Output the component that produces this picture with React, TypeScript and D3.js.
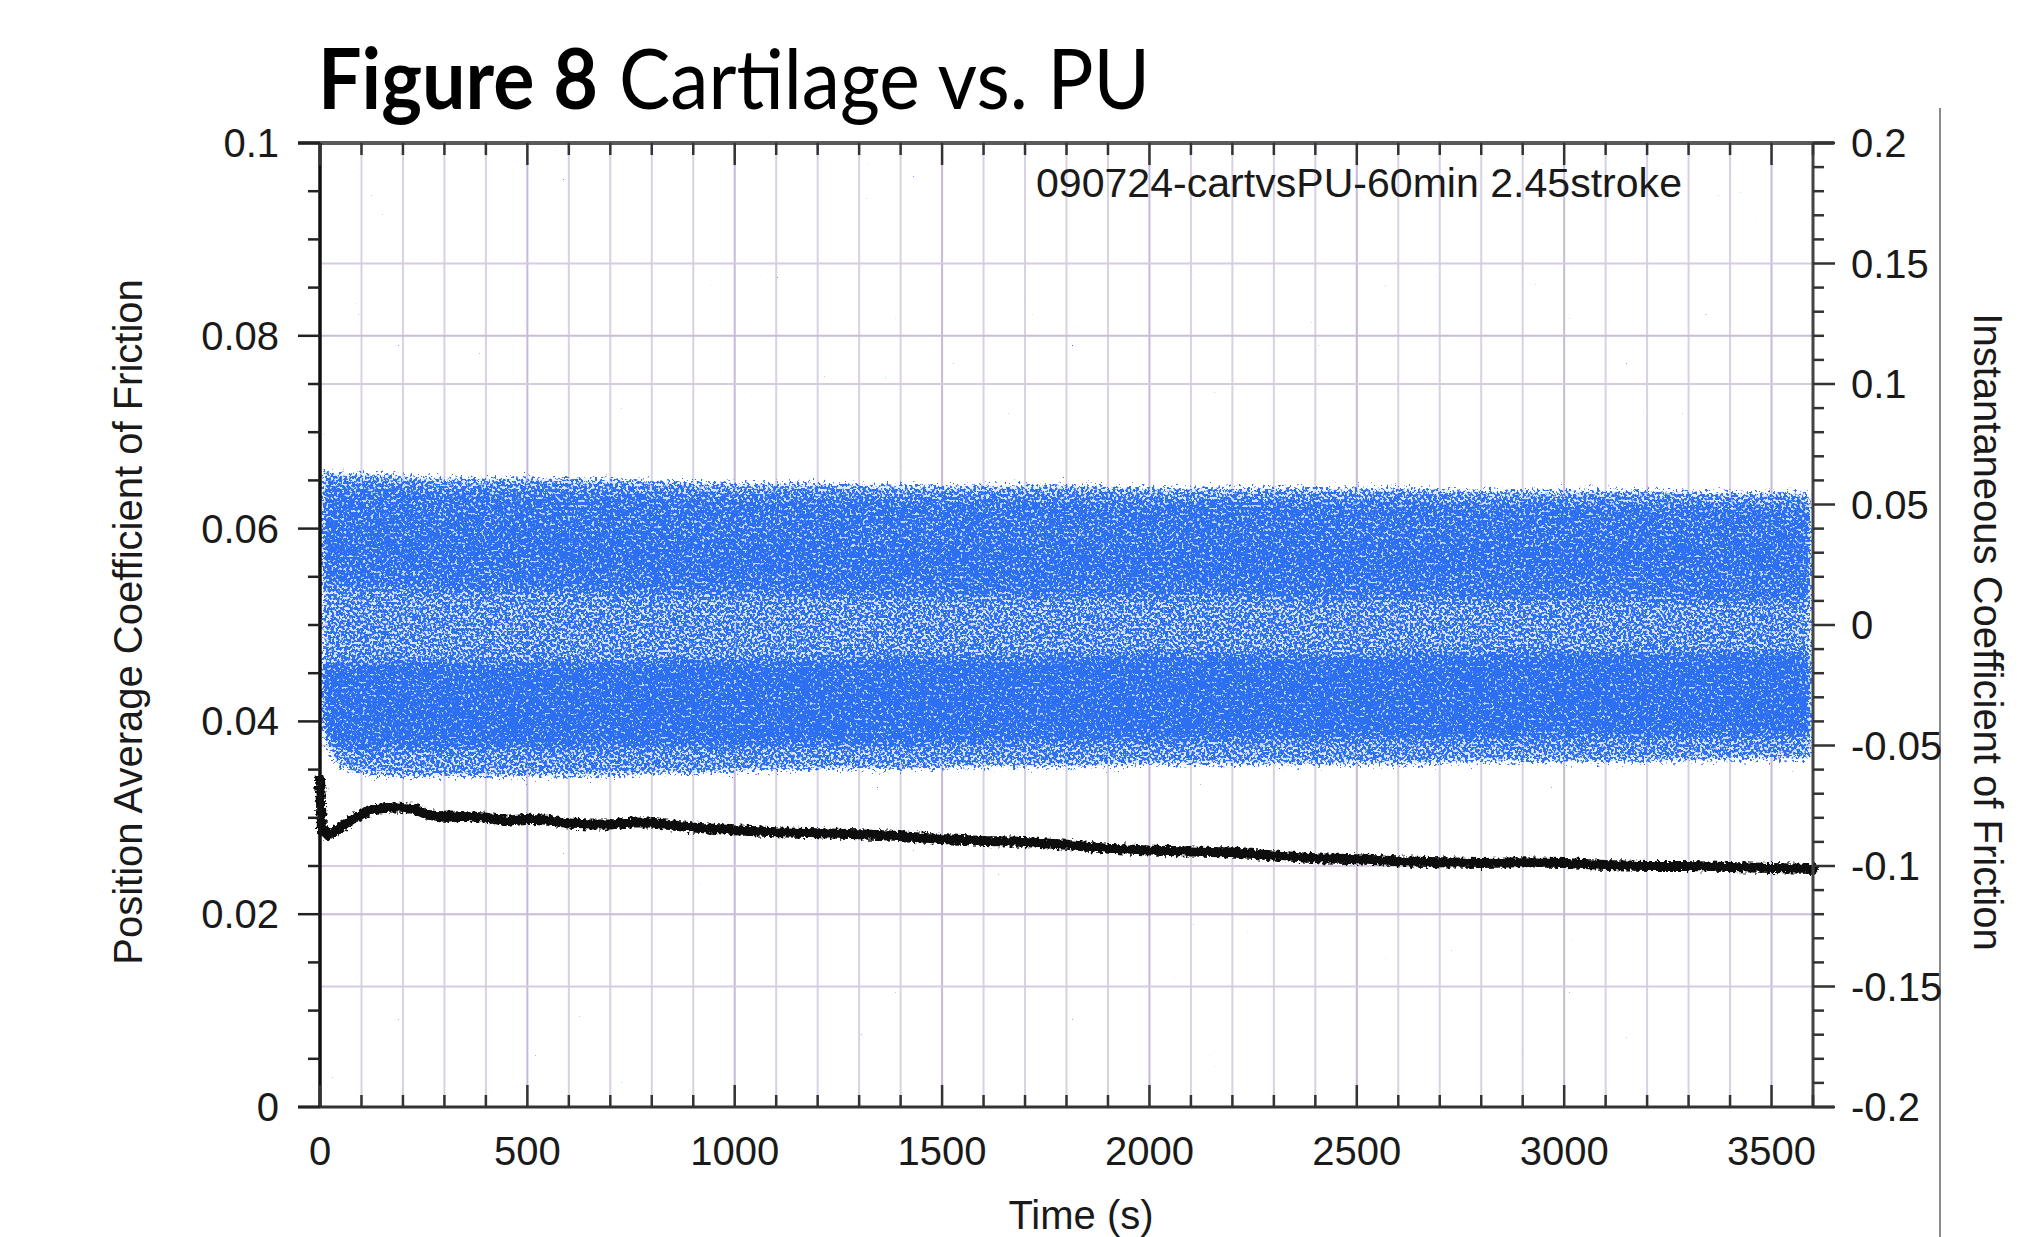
import React from 'react';
import * as d3 from 'd3';

const W = 2037;
const H = 1237;

// ---- tick values / labels ----
const xTickValues = [0, 500, 1000, 1500, 2000, 2500, 3000, 3500];
const yLeftTickValues = [0, 0.02, 0.04, 0.06, 0.08, 0.1];
const yLeftTickLabels = ['0', '0.02', '0.04', '0.06', '0.08', '0.1'];
const yRightTickValues = [-0.2, -0.15, -0.1, -0.05, 0, 0.05, 0.1, 0.15, 0.2];
const yRightTickLabels = ['-0.2', '-0.15', '-0.1', '-0.05', '0', '0.05', '0.1', '0.15', '0.2'];

// ---- position average COF (left axis) ----
const avgTime = [0, 5, 20, 40, 70, 100, 130, 180, 230, 260, 300, 350, 400, 450, 500, 550, 600, 650, 700, 750, 800, 850, 900, 1000, 1100, 1200, 1300, 1400, 1500, 1600, 1700, 1800, 1900, 2000, 2100, 2200, 2300, 2400, 2500, 2600, 2700, 2800, 2900, 3000, 3100, 3200, 3300, 3400, 3500, 3600];
const avgCOF = [0.034, 0.0285, 0.0282, 0.0287, 0.0296, 0.0304, 0.0309, 0.0311, 0.0309, 0.0303, 0.0301, 0.0302, 0.03, 0.0297, 0.0299, 0.0298, 0.0294, 0.0293, 0.0293, 0.0295, 0.0295, 0.0292, 0.029, 0.0287, 0.0285, 0.0284, 0.0283, 0.0281, 0.0278, 0.0276, 0.0275, 0.0272, 0.0268, 0.0266, 0.0265, 0.0264, 0.0261, 0.0258, 0.0257, 0.0255, 0.0254, 0.0253, 0.0254, 0.0253, 0.0251, 0.025, 0.025, 0.0249, 0.0248, 0.0247];

// ---- instantaneous COF cloud (right axis), envelope ----
const bandTime = [0, 20, 50, 100, 200, 400, 600, 800, 1000, 1200, 1400, 1600, 1800, 2000, 2200, 2400, 2600, 2800, 3000, 3200, 3400, 3600];
const bandTop = [0.066, 0.065, 0.064, 0.064, 0.063, 0.062, 0.062, 0.061, 0.06, 0.06, 0.059, 0.059, 0.059, 0.058, 0.058, 0.058, 0.058, 0.057, 0.057, 0.057, 0.056, 0.056];
const bandBottom = [-0.044, -0.054, -0.06, -0.063, -0.064, -0.064, -0.064, -0.063, -0.062, -0.061, -0.061, -0.06, -0.06, -0.059, -0.059, -0.059, -0.059, -0.058, -0.058, -0.058, -0.057, -0.057];
const upperCoreHi = [0.058, 0.058, 0.057, 0.057, 0.056, 0.055, 0.055, 0.054, 0.053, 0.053, 0.052, 0.052, 0.052, 0.051, 0.051, 0.051, 0.051, 0.05, 0.05, 0.05, 0.049, 0.049];
const upperCoreLo = [0.016, 0.016, 0.016, 0.016, 0.015, 0.014, 0.014, 0.013, 0.013, 0.013, 0.012, 0.012, 0.012, 0.012, 0.012, 0.011, 0.011, 0.011, 0.011, 0.011, 0.01, 0.01];
const streakHi = [0.045, 0.045, 0.044, 0.043, 0.042, 0.04, 0.038, 0.036, 0.035, 0.034, 0.033, 0.032, 0.032, 0.033, 0.034, 0.034, 0.034, 0.035, 0.035, 0.035, 0.035, 0.035];
const streakLo = [0.03, 0.03, 0.029, 0.028, 0.027, 0.026, 0.024, 0.022, 0.021, 0.02, 0.02, 0.019, 0.019, 0.02, 0.021, 0.021, 0.021, 0.022, 0.022, 0.022, 0.022, 0.022];
const lowerCoreHi = [-0.016, -0.016, -0.016, -0.016, -0.016, -0.016, -0.016, -0.015, -0.015, -0.015, -0.014, -0.014, -0.014, -0.013, -0.013, -0.013, -0.013, -0.012, -0.012, -0.012, -0.012, -0.012];
const lowerCoreLo = [-0.04, -0.046, -0.05, -0.051, -0.051, -0.051, -0.051, -0.05, -0.05, -0.049, -0.049, -0.048, -0.048, -0.048, -0.047, -0.047, -0.047, -0.047, -0.046, -0.046, -0.046, -0.046];

const PL = 320, PR = 1813, PT = 143, PB = 1107;

const x = d3.scaleLinear().domain([0, 3600]).range([PL, PR]);
const yL = d3.scaleLinear().domain([0, 0.1]).range([PB, PT]);
const yR = d3.scaleLinear().domain([-0.2, 0.2]).range([PB, PT]);

const FONT = '"Liberation Sans", Arial, sans-serif';

function bandArea(lo: number[], hi: number[]) {
  const idx = d3.range(bandTime.length);
  return d3
    .area<number>()
    .x((i) => x(bandTime[i]))
    .y0((i) => yR(lo[i]))
    .y1((i) => yR(hi[i]))
    .curve(d3.curveMonotoneX)(idx) as string;
}

export default function App() {
  const minorX = d3.range(0, 3601, 100);
  const minorL = d3.range(0, 0.1001, 0.005);
  const minorR = d3.range(-0.2, 0.2001, 0.01);

  const avgLine = d3
    .line<number>()
    .x((i) => x(avgTime[i]))
    .y((i) => yL(avgCOF[i]))(d3.range(avgTime.length)) as string;

  const isMajorX = (v: number) => Math.abs(v % 500) < 1e-6;

  return (
    <svg width={W} height={H} style={{ position: 'absolute', left: 0, top: 0, background: '#fff' }} fontFamily={FONT}>
      <defs>
        <clipPath id="plotClip">
          <rect x={PL} y={PT} width={PR - PL} height={PB - PT} />
        </clipPath>
        {/* density map (alpha of group) -> stippled dots */}
        <filter id="cloud" filterUnits="userSpaceOnUse" x={0} y={0} width={W} height={H} colorInterpolationFilters="sRGB">
          <feGaussianBlur in="SourceAlpha" stdDeviation={4.5} result="dens" />
          <feTurbulence type="fractalNoise" baseFrequency={0.38} numOctaves={2} seed={7} result="n" />
          <feColorMatrix in="n" type="matrix" values="0 0 0 0 0  0 0 0 0 0  0 0 0 0 0  0.8 0 0 0 0" result="na" />
          <feColorMatrix in="dens" type="matrix" values="0 0 0 0 0  0 0 0 0 0  0 0 0 0 0  0 0 0 0.45 0" result="da" />
          <feComposite in="na" in2="da" operator="arithmetic" k1={0} k2={1} k3={1} k4={0} result="sum" />
          <feComponentTransfer in="sum" result="th">
            <feFuncA type="linear" slope={18} intercept={-18 * 0.695} />
          </feComponentTransfer>
          <feFlood floodColor="#2c6ff0" result="col" />
          <feComposite in="col" in2="th" operator="in" result="dots" />
          <feColorMatrix in="dens" type="matrix" values="0 0 0 0 0.76  0 0 0 0 0.85  0 0 0 0 0.98  0 0 0 2.5 -1.3" result="under" />
          <feMerge>
            <feMergeNode in="under" />
            <feMergeNode in="dots" />
          </feMerge>
        </filter>
        <filter id="jag" filterUnits="userSpaceOnUse" x={0} y={0} width={W} height={H}>
          <feTurbulence type="fractalNoise" baseFrequency={0.3} numOctaves={2} seed={5} result="t" />
          <feDisplacementMap in="SourceGraphic" in2="t" scale={7} xChannelSelector="R" yChannelSelector="G" />
        </filter>
      </defs>
      <rect x={0} y={0} width={W} height={H} fill="#fff" />

      {/* title */}
      <text x={318} y={109} fontFamily="Lato, 'Open Sans', sans-serif" fontWeight={700} fontSize={84} textLength={280} lengthAdjust="spacingAndGlyphs" fill="#000">
        Figure 8
      </text>
      <text x={619} y={109} fontFamily="Lato, 'Open Sans', sans-serif" fontWeight={400} fontSize={84} textLength={531} lengthAdjust="spacingAndGlyphs" fill="#000">
        Cartilage vs. PU
      </text>

      {/* vertical grid */}
      {minorX.filter((v) => v > 0 && v < 3600).map((v) => (
        <line key={'gx' + v} x1={x(v)} x2={x(v)} y1={PT} y2={PB} stroke={isMajorX(v) ? '#c7b9d8' : '#d9d0e4'} strokeWidth={2} />
      ))}
      {/* horizontal grid (left majors and right majors) */}
      {yLeftTickValues.filter((v) => v > 0 && v < 0.1).map((v) => (
        <line key={'gl' + v} x1={PL} x2={PR} y1={yL(v)} y2={yL(v)} stroke="#c9bbda" strokeWidth={2} />
      ))}
      {yRightTickValues.filter((v) => v > -0.2 && v < 0.2).map((v) => (
        <line key={'gr' + v} x1={PL} x2={PR} y1={yR(v)} y2={yR(v)} stroke="#d6cce2" strokeWidth={2} />
      ))}

      {/* instantaneous COF cloud */}
      <g clipPath="url(#plotClip)">
        <g filter="url(#cloud)">
          <path d={bandArea(bandBottom, bandTop)} fill="#000" fillOpacity={0.78} />
          <path d={bandArea(upperCoreLo, upperCoreHi)} fill="#000" fillOpacity={0.64} />
          <path d={bandArea(streakLo, streakHi)} fill="#000" fillOpacity={0.45} />
          <path d={bandArea(lowerCoreLo, lowerCoreHi)} fill="#000" fillOpacity={0.97} />
        </g>
      </g>

      {/* position average COF */}
      <path d={avgLine} fill="none" stroke="#111" strokeWidth={10} strokeLinejoin="round" strokeLinecap="round" filter="url(#jag)" />

      {/* frame */}
      <line x1={298} x2={1834} y1={PT} y2={PT} stroke="#5a5a5a" strokeWidth={4} />
      <line x1={298} x2={1834} y1={PB} y2={PB} stroke="#333" strokeWidth={3} />
      <line x1={PL} x2={PL} y1={PT} y2={PB} stroke="#111" strokeWidth={3.5} />
      <line x1={PR} x2={PR} y1={PT} y2={PB} stroke="#444" strokeWidth={3} />
      <line x1={1940} x2={1940} y1={108} y2={H} stroke="#8a8a8a" strokeWidth={2} />

      {/* x ticks (bottom, inward) */}
      {minorX.map((v) => (
        <line key={'bt' + v} x1={x(v)} x2={x(v)} y1={PB} y2={PB - (isMajorX(v) ? 22 : 12)} stroke="#333" strokeWidth={2.5} />
      ))}
      {/* x ticks (top, inward) */}
      {minorX.map((v) => (
        <line key={'tt' + v} x1={x(v)} x2={x(v)} y1={PT} y2={PT + (isMajorX(v) ? 22 : 12)} stroke="#333" strokeWidth={2.5} />
      ))}
      {/* left ticks (outward) */}
      {minorL.map((v, i) => (
        <line key={'lt' + i} x1={PL} x2={PL - (i % 4 === 0 ? 22 : 12)} y1={yL(v)} y2={yL(v)} stroke="#222" strokeWidth={2.5} />
      ))}
      {/* right ticks (outward) */}
      {minorR.map((v, i) => (
        <line key={'rt' + i} x1={PR} x2={PR + (i % 5 === 0 ? 22 : 11)} y1={yR(v)} y2={yR(v)} stroke="#333" strokeWidth={2.5} />
      ))}

      {/* tick labels */}
      {xTickValues.map((v) => (
        <text key={'xl' + v} x={x(v)} y={1165} textAnchor="middle" fontSize={40} fill="#1a1a1a">
          {String(v)}
        </text>
      ))}
      {yLeftTickValues.map((v, i) => (
        <text key={'yl' + i} x={279} y={yL(v) + 14} textAnchor="end" fontSize={40} fill="#1a1a1a">
          {yLeftTickLabels[i]}
        </text>
      ))}
      {yRightTickValues.map((v, i) => (
        <text key={'yr' + i} x={1851} y={yR(v) + 14} textAnchor="start" fontSize={40} fill="#1a1a1a">
          {yRightTickLabels[i]}
        </text>
      ))}

      {/* annotation */}
      <text x={1036} y={197} fontSize={40} fill="#1a1a1a" textLength={646} lengthAdjust="spacingAndGlyphs">090724-cartvsPU-60min 2.45stroke</text>

      {/* axis titles */}
      <text x={1081} y={1229} textAnchor="middle" fontSize={40} fill="#1a1a1a">Time (s)</text>
      <text transform="translate(142,622) rotate(-90)" textAnchor="middle" fontSize={40} fill="#1a1a1a">
        Position Average Coefficient of Friction
      </text>
      <text transform="translate(1974,632) rotate(90)" textAnchor="middle" fontSize={40} fill="#1a1a1a">
        Instantaneous Coefficient of Friction
      </text>
    </svg>
  );
}
